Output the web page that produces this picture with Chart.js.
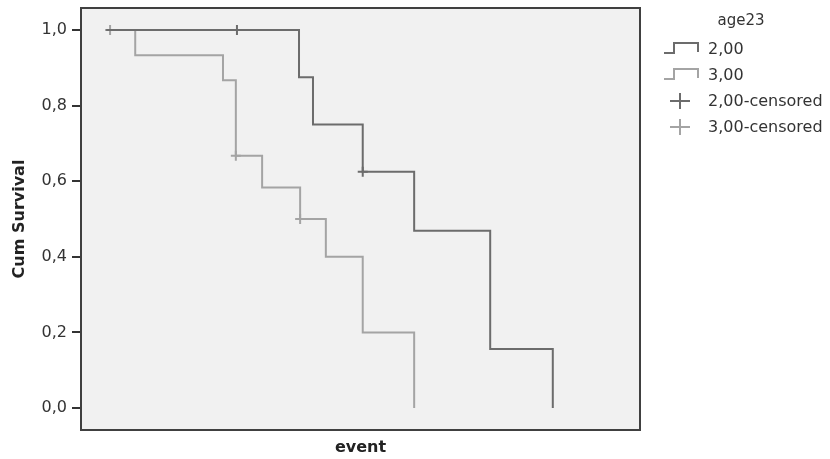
<!DOCTYPE html>
<html>
<head>
<meta charset="utf-8">
<script src="https://cdn.jsdelivr.net/npm/chart.js@4.4.1/dist/chart.umd.min.js"></script>
<style>
  html, body { margin: 0; padding: 0; background: #ffffff; }
  #wrap { width: 830px; height: 459px; position: relative; }
</style>
</head>
<body>
<div id="wrap"><canvas id="km" width="830" height="459"></canvas></div>
<script>
// Kaplan-Meier curves, time in arbitrary units (axis 0..100, no tick labels)
const groupLabels = ['2,00', '3,00'];
const censoredLabels = ['2,00-censored', '3,00-censored'];

const time200 = [4.5, 39.0, 41.5, 50.4, 59.6, 73.2, 84.4];
const surv200 = [1.0, 0.875, 0.75, 0.625, 0.469, 0.156, 0.0];
const time300 = [4.5, 9.7, 25.4, 27.7, 32.4, 39.2, 43.8, 50.4, 59.6];
const surv300 = [1.0, 0.933, 0.867, 0.667, 0.583, 0.5, 0.4, 0.2, 0.0];

const censTime200 = [27.9, 50.4];
const censSurv200 = [1.0, 0.625];
const censTime300 = [5.2, 27.7, 39.2];
const censSurv300 = [1.0, 0.667, 0.5];

const yTicks = [0, 0.2, 0.4, 0.6, 0.8, 1.0];

const darkGrey = '#6c6c6c';
const lightGrey = '#a4a4a4';
const fontFamily = '"DejaVu Sans", Verdana, sans-serif';

const toPoints = (xs, ys) => xs.map((x, i) => ({ x: x, y: ys[i] }));

// plot background + frame
const framePlugin = {
    id: 'frame',
    beforeDatasetsDraw(chart) {
        const { ctx, chartArea: a } = chart;
        ctx.save();
        ctx.fillStyle = '#f1f1f1';
        ctx.fillRect(a.left, a.top, a.right - a.left, a.bottom - a.top);
        ctx.restore();
    },
    afterDraw(chart) {
        const { ctx, chartArea: a } = chart;
        ctx.save();
        ctx.strokeStyle = '#404040';
        ctx.lineWidth = 2;
        ctx.strokeRect(a.left, a.top, a.right - a.left, a.bottom - a.top);
        ctx.restore();
    }
};

// SPSS-like legend on the right
const legendPlugin = {
    id: 'spssLegend',
    afterDraw(chart) {
        const ctx = chart.ctx;
        ctx.save();
        ctx.fillStyle = '#333333';
        ctx.textBaseline = 'middle';
        ctx.textAlign = 'center';
        ctx.font = '15px ' + fontFamily;
        ctx.fillText('age23', 741, 21);
        ctx.textAlign = 'left';
        ctx.font = '16px ' + fontFamily;

        const rows = [50, 76, 102, 128];
        const colors = [darkGrey, lightGrey];
        ctx.lineWidth = 2;
        for (let i = 0; i < 2; i++) {
            const y = rows[i];
            ctx.strokeStyle = colors[i];
            ctx.beginPath();
            ctx.moveTo(664, y + 3);
            ctx.lineTo(674, y + 3);
            ctx.lineTo(674, y - 7);
            ctx.lineTo(698, y - 7);
            ctx.lineTo(698, y + 2);
            ctx.stroke();
            ctx.fillText(groupLabels[i], 708, y);
        }
        for (let i = 0; i < 2; i++) {
            const y = rows[i + 2];
            ctx.strokeStyle = colors[i];
            ctx.beginPath();
            ctx.moveTo(670, y - 1);
            ctx.lineTo(690, y - 1);
            ctx.moveTo(680, y - 9);
            ctx.lineTo(680, y + 7);
            ctx.stroke();
            ctx.fillText(censoredLabels[i], 708, y);
        }
        ctx.restore();
    }
};

new Chart(document.getElementById('km'), {
    type: 'line',
    data: {
        datasets: [
            {
                label: groupLabels[0],
                data: toPoints(time200, surv200),
                stepped: 'before',
                borderColor: darkGrey,
                borderWidth: 2,
                pointRadius: 0,
                fill: false,
            },
            {
                label: groupLabels[1],
                data: toPoints(time300, surv300),
                stepped: 'before',
                borderColor: lightGrey,
                borderWidth: 2,
                pointRadius: 0,
                fill: false,
            },
            {
                label: censoredLabels[0],
                data: toPoints(censTime200, censSurv200),
                showLine: false,
                pointStyle: 'cross',
                pointRadius: 5,
                pointBorderColor: darkGrey,
                pointBorderWidth: 2,
            },
            {
                label: censoredLabels[1],
                data: toPoints(censTime300, censSurv300),
                showLine: false,
                pointStyle: 'cross',
                pointRadius: 5,
                pointBorderColor: lightGrey,
                pointBorderWidth: 2,
            },
        ],
    },
    options: {
        responsive: false,
        animation: false,
        layout: { padding: { left: 0, top: 8, right: 190, bottom: 0 } },
        scales: {
            x: {
                type: 'linear',
                min: 0,
                max: 100,
                ticks: { display: false },
                grid: { display: false },
                border: { display: false },
                title: {
                    display: true,
                    text: 'event',
                    color: '#222222',
                    font: { family: fontFamily, size: 16, weight: 'bold' },
                    padding: { top: 0, bottom: 2 },
                },
                afterFit: (scale) => { scale.height = 29; },
            },
            y: {
                min: -0.058,
                max: 1.058,
                afterBuildTicks: (scale) => { scale.ticks = yTicks.map(v => ({ value: v })); },
                ticks: {
                    color: '#333333',
                    padding: 5,
                    font: { family: fontFamily, size: 16 },
                    callback: (v) => v.toFixed(1).replace('.', ','),
                },
                grid: {
                    drawOnChartArea: false,
                    drawTicks: true,
                    tickLength: 9,
                    color: '#333333',
                    lineWidth: 2,
                },
                border: { display: false },
                title: {
                    display: true,
                    text: 'Cum Survival',
                    color: '#222222',
                    font: { family: fontFamily, size: 16, weight: 'bold' },
                    padding: { top: 10, bottom: 0 },
                },
                afterFit: (scale) => {
                    scale.width = 81;
                    scale.paddingTop = 0;
                    scale.paddingBottom = 0;
                },
            },
        },
        plugins: {
            legend: { display: false },
            tooltip: { enabled: false },
        },
    },
    plugins: [framePlugin, legendPlugin],
});
</script>
</body>
</html>
